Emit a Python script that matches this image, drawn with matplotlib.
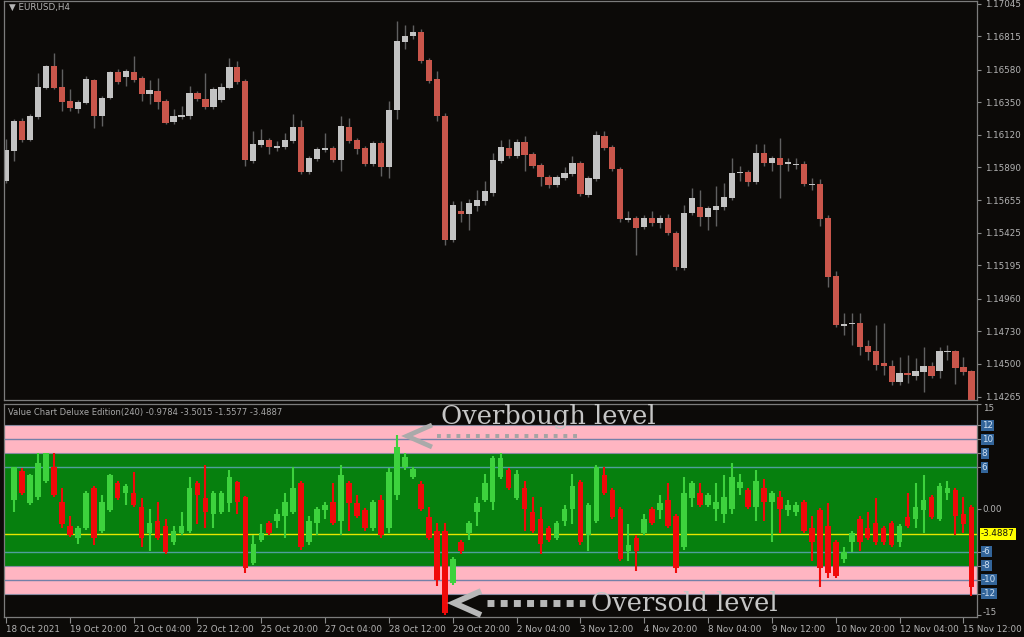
import matplotlib
matplotlib.use('Agg')
import matplotlib.pyplot as plt
import numpy as np
from matplotlib.lines import Line2D

# ---------------- data ----------------
symbol_title = "\u25BC EURUSD,H4"
indicator_title = "Value Chart Deluxe Edition(240) -0.9784 -3.5015 -1.5577 -3.4887"

price_open = [
    1.15795, 1.16007, 1.16219, 1.16085, 1.16247, 1.16452, 1.16607, 1.16459, 1.16360, 1.16304,
    1.16346, 1.16508, 1.16254, 1.16381, 1.16565, 1.16529, 1.16565, 1.16522, 1.16409, 1.16431,
    1.16360, 1.16212, 1.16247, 1.16254, 1.16416, 1.16374, 1.16318, 1.16367, 1.16452, 1.16600,
    1.16501, 1.15936, 1.16049, 1.16085, 1.16028, 1.16035, 1.16078, 1.16176, 1.15859, 1.15951,
    1.16014, 1.16028, 1.15943, 1.16176, 1.16085, 1.16028, 1.15915, 1.16063, 1.15894, 1.16296,
    1.16777, 1.16819, 1.16847, 1.16649, 1.16515, 1.16254, 1.15372, 1.15583, 1.15555, 1.15612,
    1.15654, 1.15710, 1.15936, 1.16028, 1.15972, 1.16071, 1.15986, 1.15908, 1.15823, 1.15767,
    1.15816, 1.15845, 1.15922, 1.15696, 1.15809, 1.16113, 1.16035, 1.15880, 1.15513, 1.15527,
    1.15463, 1.15527, 1.15492, 1.15527, 1.15421, 1.15174, 1.15562, 1.15605, 1.15534, 1.15590,
    1.15605, 1.15675, 1.15852, 1.15859, 1.15788, 1.15993, 1.15922, 1.15958, 1.15915, 1.15908,
    1.15915, 1.15767, 1.15774, 1.15527, 1.15117, 1.14764, 1.14779, 1.14786, 1.14623, 1.14588,
    1.14503, 1.14482, 1.14369, 1.14433, 1.14411, 1.14440, 1.14482, 1.14447, 1.14581, 1.14588,
    1.14475, 1.14447]
price_close = [
    1.16014, 1.16219, 1.16085, 1.16254, 1.16459, 1.16607, 1.16452, 1.16353, 1.16311, 1.16353,
    1.16515, 1.16254, 1.16381, 1.16565, 1.16494, 1.16572, 1.16508, 1.16409, 1.16438, 1.16353,
    1.16205, 1.16254, 1.16261, 1.16416, 1.16374, 1.16318, 1.16445, 1.16459, 1.16600, 1.16494,
    1.15943, 1.16056, 1.16085, 1.16035, 1.16042, 1.16085, 1.16176, 1.15859, 1.15958, 1.16021,
    1.16028, 1.15943, 1.16183, 1.16078, 1.16021, 1.15915, 1.16063, 1.15894, 1.16296, 1.16784,
    1.16819, 1.16847, 1.16642, 1.16501, 1.16254, 1.15372, 1.15619, 1.15555, 1.15633, 1.15661,
    1.15718, 1.15943, 1.16035, 1.15972, 1.16071, 1.15979, 1.15901, 1.15823, 1.15767, 1.15823,
    1.15852, 1.15922, 1.15703, 1.15816, 1.16120, 1.16028, 1.15880, 1.15520, 1.15527, 1.15456,
    1.15527, 1.15492, 1.15527, 1.15421, 1.15181, 1.15562, 1.15675, 1.15534, 1.15598, 1.15612,
    1.15682, 1.15852, 1.15859, 1.15788, 1.15993, 1.15922, 1.15958, 1.15908, 1.15929, 1.15915,
    1.15774, 1.15774, 1.15520, 1.15110, 1.14771, 1.14779, 1.14786, 1.14616, 1.14581, 1.14489,
    1.14482, 1.14369, 1.14433, 1.14418, 1.14447, 1.14482, 1.14411, 1.14588, 1.14588, 1.14468,
    1.14440, 1.14242]
price_high = [
    1.16092, 1.16233, 1.16240, 1.16268, 1.16558, 1.16614, 1.16699, 1.16586, 1.16445, 1.16367,
    1.16536, 1.16515, 1.16395, 1.16572, 1.16586, 1.16586, 1.16678, 1.16536, 1.16508, 1.16522,
    1.16374, 1.16304, 1.16325, 1.16466, 1.16431, 1.16558, 1.16459, 1.16487, 1.16664, 1.16642,
    1.16515, 1.16148, 1.16162, 1.16099, 1.16078, 1.16134, 1.16268, 1.16226, 1.15972, 1.16035,
    1.16134, 1.16042, 1.16254, 1.16240, 1.16099, 1.16042, 1.16078, 1.16078, 1.16360, 1.16925,
    1.16897, 1.16897, 1.16868, 1.16664, 1.16572, 1.16275, 1.15654, 1.15654, 1.15668, 1.15725,
    1.15795, 1.15993, 1.16085, 1.16092, 1.16092, 1.16113, 1.16000, 1.15922, 1.15838, 1.15838,
    1.15894, 1.15972, 1.15936, 1.15830, 1.16148, 1.16148, 1.16049, 1.15894, 1.15583, 1.15541,
    1.15548, 1.15583, 1.15548, 1.15555, 1.15435, 1.15619, 1.15739, 1.15725, 1.15612, 1.15760,
    1.15781, 1.15958, 1.15901, 1.15873, 1.16056, 1.16056, 1.15972, 1.16099, 1.15958, 1.15958,
    1.15936, 1.15816, 1.15809, 1.15548, 1.15153, 1.14856, 1.14856, 1.14856, 1.14666, 1.14771,
    1.14786, 1.14524, 1.14546, 1.14560, 1.14539, 1.14616, 1.14510, 1.14616, 1.14630, 1.14595,
    1.14546, 1.14454]
price_low = [
    1.15781, 1.15936, 1.16071, 1.16078, 1.16233, 1.16445, 1.16445, 1.16289, 1.16289, 1.16275,
    1.16339, 1.16169, 1.16183, 1.16374, 1.16480, 1.16466, 1.16494, 1.16360, 1.16339, 1.16304,
    1.16198, 1.16198, 1.16233, 1.16233, 1.16360, 1.16304, 1.16304, 1.16353, 1.16445, 1.16480,
    1.15901, 1.15922, 1.16035, 1.15986, 1.16007, 1.16021, 1.16063, 1.15845, 1.15845, 1.15936,
    1.16000, 1.15929, 1.15866, 1.16063, 1.15986, 1.15901, 1.15901, 1.15830, 1.15816, 1.16233,
    1.16727, 1.16798, 1.16628, 1.16487, 1.16219, 1.15336, 1.15357, 1.15499, 1.15442, 1.15583,
    1.15619, 1.15689, 1.15922, 1.15958, 1.15958, 1.15866, 1.15887, 1.15760, 1.15746, 1.15753,
    1.15802, 1.15830, 1.15689, 1.15682, 1.15795, 1.16014, 1.15866, 1.15499, 1.15499, 1.15266,
    1.15449, 1.15477, 1.15456, 1.15407, 1.15160, 1.15160, 1.15548, 1.15477, 1.15442, 1.15477,
    1.15590, 1.15661, 1.15795, 1.15760, 1.15774, 1.15901, 1.15866, 1.15675, 1.15866, 1.15880,
    1.15760, 1.15725, 1.15477, 1.15040, 1.14757, 1.14701, 1.14630, 1.14560, 1.14524, 1.14454,
    1.14418, 1.14348, 1.14348, 1.14362, 1.14383, 1.14298, 1.14397, 1.14397, 1.14524, 1.14355,
    1.14418, 1.14207]

nan = float('nan')
vc_open = [
    nan, 1.3, 5.4, 0.9, 1.7, 4.1, 6.0, 1.0, -2.3, -4.1,
    -2.7, 3.1, -3.0, -0.1, 3.7, 2.3, 2.4, 0.3, -3.3, -1.6,
    -2.3, -4.7, -3.3, -3.0, 3.7, 1.6, -0.6, -0.4, 0.9, 3.9,
    1.7, -7.6, -4.4, -1.9, -1.6, -0.9, -0.4, 3.7, -4.7, -1.9,
    -0.1, 1.0, -1.6, 3.7, 0.9, -0.1, -2.7, 1.3, -2.7, 2.0,
    6.0, 4.6, 3.6, -1.1, -3.0, -3.0, -10.4, -4.7, -3.4, -0.4,
    1.3, 1.0, 4.6, 5.6, 1.6, 3.1, -0.4, -1.3, -2.6, -4.0,
    -1.6, 0.1, 3.9, -3.7, -1.6, 4.9, 2.7, 0.1, -5.9, -4.0,
    -3.3, 0.1, -0.1, 1.3, -0.9, -5.4, 1.6, 2.3, 0.6, 0.1,
    -0.6, 0.1, 3.0, 2.7, 0.3, 3.0, 1.0, 1.7, -0.1, -0.4,
    1.0, -2.7, -0.1, -2.3, -4.7, -7.0, -4.7, -1.3, -2.6, -1.9,
    -2.7, -1.9, -4.7, -1.1, -1.3, -0.1, 1.7, -1.3, 2.4, 2.7,
    -0.6, 0.3]
vc_close = [
    nan, 6.0, 2.3, 4.9, 6.6, 8.0, 2.0, -2.0, -3.7, -2.7,
    2.4, -4.0, 1.0, 4.9, 1.6, 3.4, 0.6, -4.0, -1.9, -4.0,
    -6.1, -3.0, -2.3, 3.1, 2.0, -0.4, 2.4, 2.4, 4.6, 1.0,
    -8.4, -4.9, -3.4, -3.4, -0.6, 1.0, 3.1, -5.4, -1.6, 0.1,
    0.6, -1.9, 4.9, 0.9, -0.9, -2.7, 1.0, -3.7, 5.3, 8.9,
    7.4, 5.7, 0.1, -4.0, -10.1, -14.7, -7.0, -5.9, -1.9, 0.9,
    3.7, 7.3, 7.3, 3.1, 5.1, 0.1, -3.0, -4.9, -4.4, -1.9,
    0.1, 3.4, -4.7, 0.6, 6.0, 2.4, -1.1, -7.0, -5.1, -5.9,
    -1.3, -1.9, 0.9, -2.3, -8.4, 2.4, 3.7, 0.6, 2.0, 1.0,
    1.7, 4.6, 3.9, 0.3, 4.1, 1.0, 2.3, 0.1, 0.6, 0.6,
    -3.0, -4.7, -8.4, -9.0, -9.4, -6.1, -3.4, -4.7, -4.0, -4.7,
    -4.7, -5.1, -2.3, -2.3, 0.3, 1.3, -1.1, 3.4, 3.1, -0.9,
    -2.0, -11.1]
vc_high = [
    nan, 6.0, 5.9, 5.0, 8.0, 8.1, 8.0, 3.1, -0.9, -2.4,
    2.6, 3.3, 2.0, 5.1, 4.0, 3.6, 5.3, 1.6, 0.1, 1.0,
    -1.3, -2.3, -0.4, 4.6, 4.0, 6.3, 2.6, 2.6, 5.6, 4.1,
    1.9, -3.7, -2.0, -1.6, 0.1, 2.4, 6.0, 4.0, -0.9, 0.4,
    1.0, 3.7, 6.3, 4.0, 2.0, 0.2, 1.3, 2.0, 5.9, 10.6,
    8.0, 6.0, 4.0, 0.3, -1.9, -1.9, -6.7, -4.4, -1.6, 1.7,
    5.1, 7.6, 8.1, 5.9, 5.6, 4.0, 1.7, 0.3, -2.3, -1.6,
    0.6, 5.1, 4.2, 0.9, 6.3, 6.0, 3.0, 0.4, -2.0, -3.7,
    -0.6, 0.4, 2.0, 3.7, -0.6, 4.6, 4.0, 3.7, 2.3, 3.7,
    4.9, 6.6, 5.0, 3.0, 5.6, 4.4, 2.6, 2.6, 1.3, 1.0,
    1.3, -0.9, 0.2, 0.9, -4.4, -5.4, -3.0, -1.0, -0.4, 1.6,
    -2.4, -1.6, -2.0, 2.4, 3.7, 4.9, 2.0, 3.7, 4.1, 3.0,
    1.7, 0.6]
vc_low = [
    nan, -0.3, 2.0, 0.6, 1.4, 3.8, 1.8, -2.7, -3.9, -4.9,
    -2.9, -5.1, -3.3, -0.4, 1.3, 0.6, 0.3, -5.4, -5.9, -4.3,
    -6.4, -5.0, -3.6, -3.3, -2.0, -2.7, -2.6, -0.7, -0.4, -0.6,
    -9.1, -7.9, -4.7, -3.7, -2.7, -4.0, -0.7, -5.7, -5.0, -3.7,
    -1.3, -2.2, -3.7, -3.0, -1.2, -3.0, -3.0, -4.0, -3.3, 1.3,
    5.6, 4.4, -0.2, -4.3, -10.9, -15.0, -10.7, -6.3, -4.4, -2.3,
    1.0, -0.1, 4.3, 2.8, 1.3, -3.0, -3.3, -6.3, -4.7, -4.3,
    -2.3, -2.0, -5.0, -5.9, -1.9, 2.1, -1.4, -7.3, -7.3, -8.7,
    -3.6, -2.2, -1.3, -2.6, -9.1, -5.7, 0.3, 0.3, 0.3, -1.6,
    -1.9, -0.6, 2.0, 0.0, -1.6, -1.6, -4.7, -3.3, -1.0, -1.0,
    -3.3, -7.3, -11.1, -9.7, -9.7, -7.6, -6.1, -5.9, -4.3, -5.0,
    -5.0, -5.4, -5.4, -2.6, -2.7, -3.4, -1.4, -1.6, 1.3, -3.7,
    -3.4, -12.3]

price_ticks = [1.17045, 1.16815, 1.16580, 1.16350, 1.16120, 1.15890, 1.15655,
               1.15425, 1.15195, 1.14960, 1.14730, 1.14500, 1.14265]
vc_levels = [12, 10, 8, 6, -6, -8, -10, -12]
vc_last = -3.4887
date_labels = ["18 Oct 2021", "19 Oct 20:00", "21 Oct 04:00", "22 Oct 12:00",
               "25 Oct 20:00", "27 Oct 04:00", "28 Oct 12:00", "29 Oct 20:00",
               "2 Nov 04:00", "3 Nov 12:00", "4 Nov 20:00", "8 Nov 04:00",
               "9 Nov 12:00", "10 Nov 20:00", "12 Nov 04:00", "15 Nov 12:00"]

# ---------------- figure ----------------
W, H = 1024, 637
BG = '#0c0a08'
fig = plt.figure(figsize=(W / 100, H / 100), dpi=100, facecolor=BG)


def fx(px):
    return px / W


def fy(py):
    return 1 - py / H


ax1 = fig.add_axes([fx(4), fy(400), fx(977) - fx(4), fy(1) - fy(400)])
ax2 = fig.add_axes([fx(4), fy(617), fx(977) - fx(4), fy(404) - fy(617)])

n = min(len(price_open), len(price_close), len(price_high), len(price_low))
x = np.arange(n)
po = np.array(price_open[:n]); pc = np.array(price_close[:n])
ph = np.array(price_high[:n]); pl = np.array(price_low[:n])

for ax in (ax1, ax2):
    ax.set_facecolor(BG)
    for s in ax.spines.values():
        s.set_color('#7c7c7c')
        s.set_linewidth(0.9)
    ax.set_xlim(-0.25, 121.7)

# price candles
up = pc >= po
ax1.vlines(x, pl, ph, color='#606060', lw=1.0, zorder=1)
ax1.bar(x, np.maximum(np.abs(pc - po), 0.00004), 0.78, np.minimum(po, pc),
        color=np.where(up, '#c3c3c3', '#c9564b'), linewidth=0, zorder=2)
ax1.set_ylim(1.14242, 1.17066)
ax1.yaxis.tick_right()
ax1.set_yticks(price_ticks)
ax1.set_yticklabels([f'{t:.5f}' for t in price_ticks])
ax1.tick_params(axis='y', colors='#8a8a8a', labelcolor='#b4b4b4', labelsize=6.3,
                length=3, width=0.8, pad=3)
ax1.set_xticks([])

# value chart panel
m = min(len(vc_open), len(vc_close), len(vc_high), len(vc_low))
vx = np.arange(m)
vo = np.array(vc_open[:m]); vcl = np.array(vc_close[:m])
vh = np.array(vc_high[:m]); vl = np.array(vc_low[:m])
ok = ~np.isnan(vo)
ax2.set_ylim(-15.3, 15.0)
ax2.axhspan(8, 12, color='#ffb5c2', lw=0, zorder=0)
ax2.axhspan(-12, -8, color='#ffb5c2', lw=0, zorder=0)
ax2.axhspan(-8, 8, color='#06800e', lw=0, zorder=0)
for lv in (12, 8, -8, -12):
    ax2.axhline(lv, color='#8a8aa0', lw=0.8, zorder=1)
for lv in (10, -10):
    ax2.axhline(lv, color='#7480a8', lw=1.0, zorder=1)
for lv in (6, -6):
    ax2.axhline(lv, color='#4f9f9c', lw=1.0, zorder=1)
ax2.axhline(vc_last, color='#e6e600', lw=1.0, zorder=1)

vup = vcl >= vo
vcol = np.where(vup, '#3dd23d', '#f00a0a')
ax2.vlines(vx[ok], vl[ok], vh[ok], color=vcol[ok], lw=1.5, zorder=2)
ax2.bar(vx[ok], np.maximum(np.abs(vcl - vo)[ok], 0.15), 0.7,
        np.minimum(vo, vcl)[ok], color=vcol[ok], linewidth=0, zorder=3)

ax2.yaxis.tick_right()
ax2.set_yticks([15] + vc_levels + [0, -15])
ax2.set_yticklabels([])
ax2.tick_params(axis='y', colors='#8a8a8a', length=3, width=0.8)
ytr = ax2.get_yaxis_transform()
ax2.text(1.006, 15.0, '15', transform=ytr, color='#b4b4b4', fontsize=6.3,
         va='top', ha='left', clip_on=False)
ax2.text(1.006, 0, '0.00', transform=ytr, color='#b4b4b4', fontsize=6.3,
         va='center', ha='left', clip_on=False)
ax2.text(1.006, -15.3, '-15', transform=ytr, color='#b4b4b4', fontsize=6.3,
         va='bottom', ha='left', clip_on=False)
for lv in vc_levels:
    ax2.text(1.005, lv, f'{lv:g}', transform=ytr, color='#cfe0f2', fontsize=6.3,
             va='center', ha='left', clip_on=False,
             bbox=dict(boxstyle='square,pad=0.12', fc='#33659a', ec='none'))
ax2.text(1.004, vc_last, f'{vc_last:.4f}', transform=ytr, color='#111111', fontsize=6.3,
         va='center', ha='left', clip_on=False,
         bbox=dict(boxstyle='square,pad=0.15', fc='#ffff00', ec='none'))

tick_bars = np.arange(0, 8 * len(date_labels), 8)
ax2.set_xticks(tick_bars)
ax2.set_xticklabels(date_labels, ha='left')
ax2.tick_params(axis='x', colors='#8a8a8a', labelcolor='#b4b4b4', labelsize=6.3,
                length=4, width=0.8, pad=2)

# titles
fig.text(fx(9), fy(7), symbol_title, color='#b4b4b4', fontsize=6.3, va='center', ha='left')
fig.text(fx(8), fy(412), indicator_title, color='#a8a8a8', fontsize=6.0, va='center', ha='left')

# annotations
def pline(pts, **kw):
    xs = [fx(p[0]) for p in pts]
    ys = [fy(p[1]) for p in pts]
    fig.add_artist(Line2D(xs, ys, transform=fig.transFigure, **kw))


pline([(432, 425), (407, 436), (432, 447)], color='#aaaaaa', lw=3.4,
      solid_joinstyle='miter', solid_capstyle='butt', zorder=5)
pline([(437, 436), (577, 436)], color='#a4a4a4', lw=2.8, linestyle=(0, (1, 1.5)),
      dash_capstyle='butt', zorder=5)
pline([(481, 591), (454, 603), (481, 615)], color='#b8b8b8', lw=4.2,
      solid_joinstyle='miter', solid_capstyle='butt', zorder=5)
pline([(487, 603), (585, 603)], color='#b8b8b8', lw=5.0, linestyle=(0, (1, 0.9)),
      dash_capstyle='butt', zorder=5)

fig.text(fx(441), fy(424), 'Overbough level', family='DejaVu Serif', fontsize=18.5,
         color='#c6c6c6', va='baseline', ha='left', zorder=6)
fig.text(fx(591), fy(611), 'Oversold level', family='DejaVu Serif', fontsize=18.5,
         color='#c6c6c6', va='baseline', ha='left', zorder=6)

fig.savefig('out.png', dpi=100, facecolor=BG)
